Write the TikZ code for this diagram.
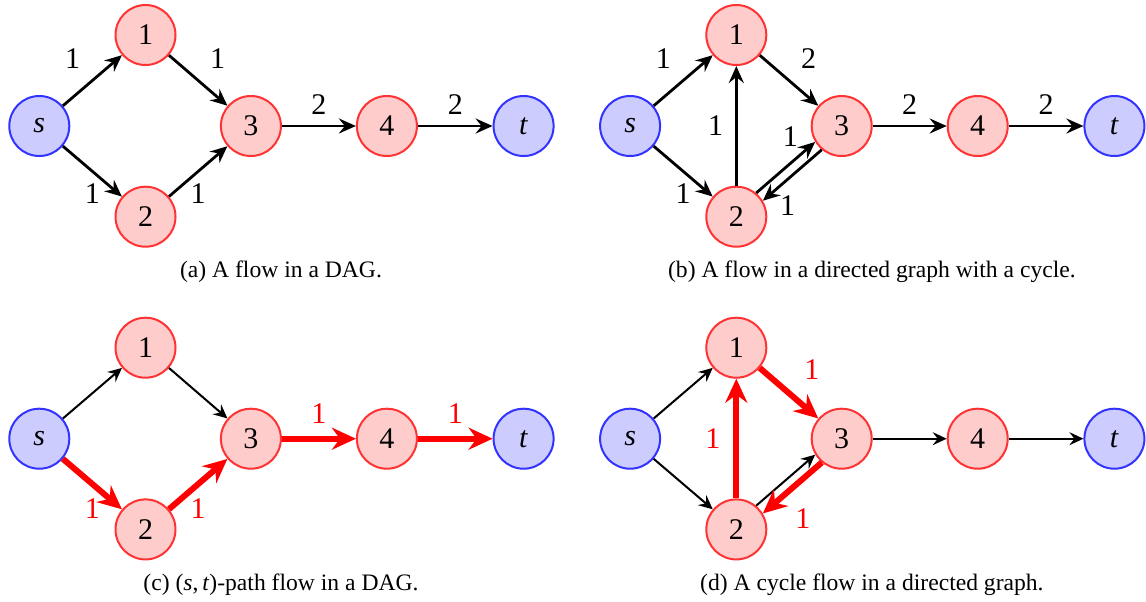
\documentclass[tikz,border=0pt]{standalone}
\usepackage{fontspec}
\setmainfont{Liberation Serif}
\usetikzlibrary{arrows.meta,positioning}

\begin{document}
\begin{tikzpicture}[x=0.5pt,y=-0.5pt,
  vtx/.style={circle,draw=red!80,fill=red!20,line width=1pt,minimum size=30pt,inner sep=0pt,font=\fontsize{15}{15}\selectfont},
  term/.style={vtx,draw=blue!80,fill=blue!20},
  arc/.style={line width=1.4pt,-{Stealth[length=8.5pt,width=7.5pt,inset=3pt]}},
  lite/.style={line width=1pt,-{Stealth[length=7pt,width=6.5pt,inset=2.5pt]}},
  hot/.style={red,line width=3pt,-{Stealth[length=12pt,width=11pt,inset=4pt]}},
  wt/.style={inner sep=2pt,font=\fontsize{15}{15}\selectfont},
  subcap/.style={font=\fontsize{11.8}{14}\selectfont}]
\useasboundingbox (0,0) rectangle (1146,601);
% same six vertices in every panel
\foreach \p/\dx/\dy in {a/0/0,b/590.8/0,c/0/312.7,d/590.8/312.7}{
  \begin{scope}[shift={(\dx,\dy)}]
  \node[term] (\p-s) at (39.3,126) {\textit{s}};
  \node[vtx] (\p-1) at (145.5,35) {1};
  \node[vtx] (\p-2) at (145.5,216.7) {2};
  \node[vtx] (\p-3) at (250.9,126) {3};
  \node[vtx] (\p-4) at (386.9,126) {4};
  \node[term] (\p-t) at (523.6,126) {\textit{t}};
  \end{scope}
}
% (a)
\draw[arc] (a-s) -- (a-1) node[wt,midway,above left=3.5pt and 3.5pt]{1};
\draw[arc] (a-1) -- (a-3) node[wt,midway,above right=3.3pt and 3.3pt]{1};
\draw[arc] (a-s) -- (a-2) node[wt,midway,below=3.6pt]{1};
\draw[arc] (a-2) -- (a-3) node[wt,midway,below=3.6pt]{1};
\draw[arc] (a-3) -- (a-4) node[wt,midway,above=3pt]{2};
\draw[arc] (a-4) -- (a-t) node[wt,midway,above=3pt]{2};
\node[subcap] (cap-a) at (281,272) {(a) A flow in a DAG.};
% (b)
\draw[arc] (b-s) -- (b-1) node[wt,midway,above left=3.5pt and 3.5pt]{1};
\draw[arc] (b-1) -- (b-3) node[wt,midway,above right=3.3pt and 3.3pt]{2};
\draw[arc] (b-2) -- (b-1) node[wt,midway,left=3.9pt]{1};
\draw[arc] (b-s) -- (b-2) node[wt,midway,below=3.6pt]{1};
\draw[arc] (b-2.50) -- (b-3.211) node[wt,pos=0.8,above left]{1};
\draw[arc] (b-3.230) -- (b-2.31) node[wt,pos=0.8,below right]{1};
\draw[arc] (b-3) -- (b-4) node[wt,midway,above=3pt]{2};
\draw[arc] (b-4) -- (b-t) node[wt,midway,above=3pt]{2};
\node[subcap] (cap-b) at (871.9,272) {(b) A flow in a directed graph with a cycle.};
% (c)
\draw[lite] (c-s) -- (c-1);
\draw[lite] (c-1) -- (c-3);
\draw[hot] (c-s) -- (c-2) node[wt,midway,below=4pt]{1};
\draw[hot] (c-2) -- (c-3) node[wt,midway,below=4pt]{1};
\draw[hot] (c-3) -- (c-4) node[wt,midway,above=4pt]{1};
\draw[hot] (c-4) -- (c-t) node[wt,midway,above=4pt]{1};
\node[subcap] (cap-c) at (281,585) {(c) (\textit{s},\,\textit{t})-path flow in a DAG.};
% (d)
\draw[lite] (d-s) -- (d-1);
\draw[lite] (d-s) -- (d-2);
\draw[hot] (d-1) -- (d-3) node[wt,midway,above right=3.3pt and 4.2pt]{1};
\draw[hot] (d-2) -- (d-1) node[wt,midway,left=4.5pt]{1};
\draw[lite] (d-2.50) -- (d-3.211);
\draw[hot] (d-3.230) -- (d-2.31) node[wt,pos=0.65,below right=3pt and 2.5pt]{1};
\draw[lite] (d-3) -- (d-4);
\draw[lite] (d-4) -- (d-t);
\node[subcap] (cap-d) at (871.9,585) {(d) A cycle flow in a directed graph.};
\end{tikzpicture}
\end{document}
